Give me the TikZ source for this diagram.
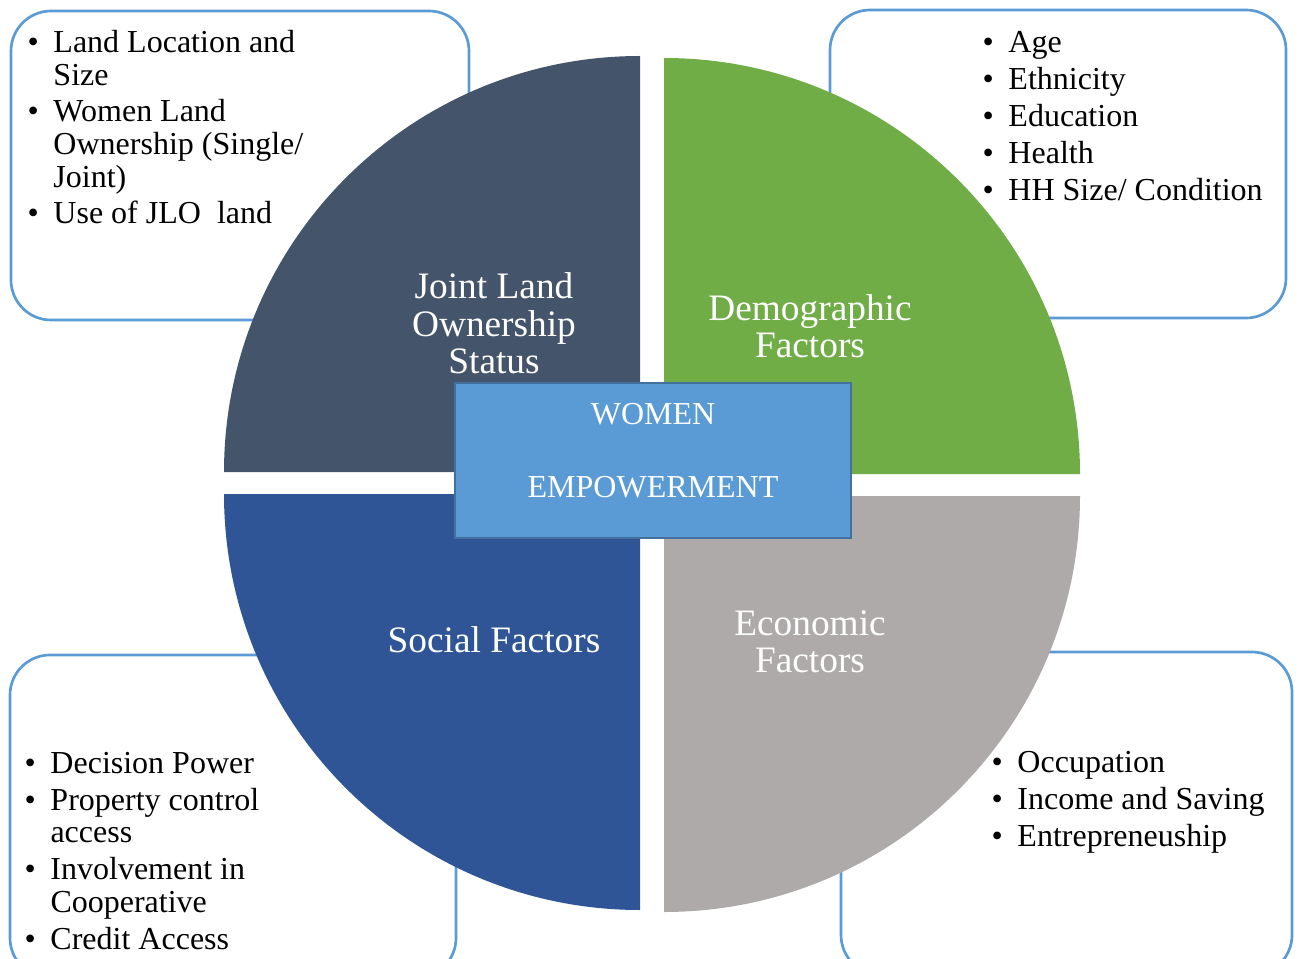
\documentclass[tikz,border=0pt]{standalone}
\usepackage{fontspec}
\setmainfont{Liberation Serif}

\definecolor{jloslate}{HTML}{44546A}
\definecolor{demogreen}{HTML}{70AD47}
\definecolor{socialblue}{HTML}{2F5597}
\definecolor{econgray}{HTML}{AEAAAA}
\definecolor{boxblue}{HTML}{5B9BD5}
\definecolor{boxedge}{HTML}{41719C}

\newcommand{\itm}{\makebox[19.5pt][l]{\textbullet}}
\newcommand{\ind}{\hspace*{19.5pt}}

\tikzset{every picture/.style={line width=0.75pt}}
\tikzset{
  listbox/.style={draw=boxblue, line width=2pt, rounded corners=30pt},
  bullist/.style={font=\fontsize{24}{24.4}\selectfont, align=left, anchor=base west, inner sep=0pt},
  quadlabel/.style={font=\fontsize{28}{27.75}\selectfont, text=white, align=center, anchor=base, inner sep=0pt},
  centerbox/.style={draw=boxedge, fill=boxblue, line width=1.5pt, minimum width=297pt, minimum height=116.25pt, inner sep=0pt}
}

\begin{document}
\begin{tikzpicture}[x=0.75pt,y=0.75pt,yscale=-1,xscale=1]
	\useasboundingbox (0,0) rectangle (1299,959);

	%Shape: Rounded Rect [id:jlo]
	\draw [listbox] (11,11) rectangle (469,320) ;
	%Shape: Rounded Rect [id:demo]
	\draw [listbox] (830,10) rectangle (1286,318) ;
	%Shape: Rounded Rect [id:social]
	\draw [listbox] (10,655) rectangle (456,978) ;
	%Shape: Rounded Rect [id:econ]
	\draw [listbox] (841,652) rectangle (1292,975) ;

	%Shape: Quarter Circle [id:jlo]
	\fill [jloslate] (640,472) -- (224,472) arc (180:270:416) -- cycle ;
	%Shape: Quarter Circle [id:demo]
	\fill [demogreen] (664,474) -- (664,58) arc (270:360:416) -- cycle ;
	%Shape: Quarter Circle [id:social]
	\fill [socialblue] (640,494) -- (224,494) arc (180:90:416) -- cycle ;
	%Shape: Quarter Circle [id:econ]
	\fill [econgray] (664,496) -- (1080,496) arc (0:90:416) -- cycle ;

	%Shape: Rectangle [id:wemp]
	\node [centerbox] (wemp) at (653,460.5) {} ;

	% Text Node
	\node [quadlabel] (jlolabel) at (494,373) {Joint Land\\Ownership\\Status} ;
	% Text Node
	\node [quadlabel] (demolabel) at (810,357) {Demographic\\Factors} ;
	% Text Node
	\node [quadlabel] (sociallabel) at (494,652) {Social Factors} ;
	% Text Node
	\node [quadlabel] (econlabel) at (810,672) {Economic\\Factors} ;
	% Text Node
	\node [quadlabel, font=\fontsize{24}{24.4}\selectfont] (wemptext) at (653,497) {WOMEN\\[30.35pt]EMPOWERMENT} ;

	% Text Node
	\node [bullist] (jlolist) at (27,224) {\itm Land Location and\\ \ind Size\\[3.3pt]
		\itm Women Land\\ \ind Ownership (Single/\\ \ind Joint)\\[3.3pt]
		\itm Use of JLO\ \ land} ;
	% Text Node
	\node [bullist] (demolist) at (982,201) {\itm Age\\[3.35pt] \itm Ethnicity\\[3.35pt]
		\itm Education\\[3.35pt] \itm Health\\[3.35pt] \itm HH Size/ Condition} ;
	% Text Node
	\node [bullist] (sociallist) at (24,949) {\itm Decision Power\\[3.3pt]
		\itm Property control\\ \ind access\\[3.3pt]
		\itm Involvement in\\ \ind Cooperative\\[3.3pt]
		\itm Credit Access} ;
	% Text Node
	\node [bullist] (econlist) at (991,846) {\itm Occupation\\[3.35pt]
		\itm Income and Saving\\[3.35pt] \itm Entrepreneuship} ;

\end{tikzpicture}
\end{document}
